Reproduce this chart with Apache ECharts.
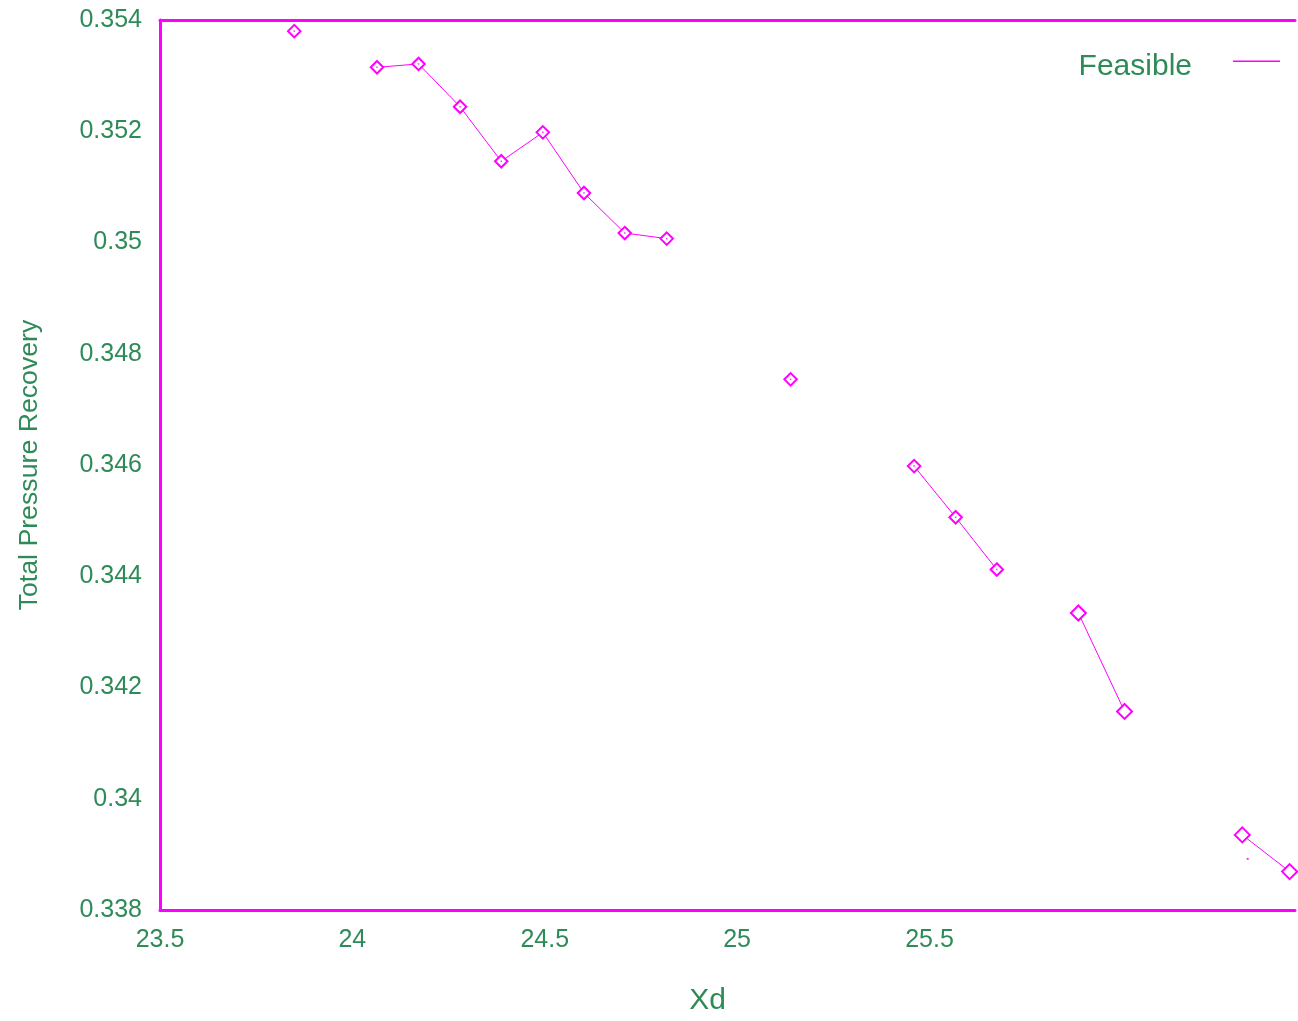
<!DOCTYPE html>
<html>
<head>
<meta charset="utf-8">
<script src="https://cdn.jsdelivr.net/npm/echarts@6/dist/echarts.min.js"></script>
<style>
html,body{margin:0;padding:0;background:#fff;overflow:hidden;}
#chart{position:absolute;left:0;top:0;width:1298px;height:1021px;}
</style>
</head>
<body>
<div id="chart"></div>
<script>
// ---- data ----
const xd = [23.849, 24.064, 24.172, 24.280, 24.387, 24.495, 24.602, 24.708, 24.817,
            25.139, 25.460, 25.568, 25.675, 25.887, 26.007, 26.313, 26.436];
const tpr = [0.35380, 0.35315, 0.35321, 0.35244, 0.35146, 0.35198, 0.35089, 0.35017, 0.35007,
             0.34754, 0.34598, 0.34506, 0.34412, 0.34334, 0.34157, 0.33935, 0.33869];
const segment = [0, 1, 1, 1, 1, 1, 1, 1, 1, 2, 3, 3, 3, 4, 4, 5, 5];
const strayDotX = [26.327];
const strayDotY = [0.33892];
const xTickLabels = ['23.5', '24', '24.5', '25', '25.5'];
const yTickLabels = ['0.338', '0.34', '0.342', '0.344', '0.346', '0.348', '0.35', '0.352', '0.354'];
const seriesName = 'Feasible';

// ---- build line data with gaps between segments ----
const lineData = [];
for (let i = 0; i < xd.length; i++) {
  if (i > 0 && segment[i] !== segment[i - 1]) lineData.push([xd[i], '-']);
  lineData.push([xd[i], tpr[i], segment[i]]);
}
const centerDots = xd.map((x, i) => [x, tpr[i], segment[i]]).filter(d => d[2] < 4);

const GREEN = '#2e8b57';
const MAG = '#ff00ff';
const FONT = '"Liberation Sans", Arial, sans-serif';
const frameLine = {show: true, lineStyle: {color: MAG, width: 3}};

const chart = echarts.init(document.getElementById('chart'), null, {renderer: 'canvas', width: 1298, height: 1021});
chart.setOption({
  animation: false,
  backgroundColor: '#ffffff',
  grid: {left: 160, top: 20, right: 1, bottom: 107, show: false},
  legend: {
    data: [{name: seriesName, icon: 'path://M0,0L47,0L47,1.4L0,1.4Z M0,12.99L0.01,12.99L0.01,13L0,13Z'}],
    right: 13, top: 47,
    align: 'right',
    itemWidth: 47, itemHeight: 13,
    itemStyle: {color: MAG, borderWidth: 0},
    textStyle: {color: GREEN, fontSize: 30, fontFamily: FONT, padding: [0, 36, 0, 0]}
  },
  xAxis: [{
    type: 'value', position: 'bottom',
    min: 23.5, max: 26.45, interval: 0.5,
    name: 'Xd', nameLocation: 'middle', nameGap: 76,
    nameTextStyle: {color: GREEN, fontSize: 30, fontFamily: FONT, padding: [0, 40, 0, 0]},
    axisLine: frameLine, axisTick: {show: false}, splitLine: {show: false},
    axisLabel: {
      color: GREEN, fontSize: 25, fontFamily: FONT, margin: 18,
      formatter: v => {
        const s = String(Math.round(v * 10) / 10);
        return xTickLabels.includes(s) ? s : '';
      }
    }
  }, {
    type: 'value', position: 'top',
    min: 23.5, max: 26.45,
    axisLine: frameLine, axisTick: {show: false}, splitLine: {show: false},
    axisLabel: {show: false}
  }],
  yAxis: {
    type: 'value',
    min: 0.338, max: 0.354, interval: 0.002,
    name: 'Total Pressure Recovery', nameLocation: 'middle', nameGap: 117,
    nameTextStyle: {color: GREEN, fontSize: 26.7, fontFamily: FONT},
    axisLine: frameLine, axisTick: {show: false}, splitLine: {show: false},
    axisLabel: {
      color: GREEN, fontSize: 25, fontFamily: FONT, margin: 18,
      formatter: v => {
        const s = String(Math.round(v * 1000) / 1000);
        return yTickLabels.includes(s) ? s : '';
      }
    }
  },
  series: [
    {
      name: seriesName,
      type: 'line',
      data: lineData,
      connectNulls: false,
      symbol: 'emptyDiamond',
      symbolSize: (v) => (v[2] >= 4 ? 15 : 12.5),
      showAllSymbol: true,
      lineStyle: {color: MAG, width: 1},
      itemStyle: {color: MAG, borderColor: MAG, borderWidth: 1},
      emphasis: {disabled: true},
      z: 3
    },
    {
      name: 'centers',
      type: 'scatter',
      data: centerDots,
      symbol: 'rect', symbolSize: 1.5,
      itemStyle: {color: MAG},
      silent: true, z: 4
    },
    {
      name: 'stray',
      type: 'scatter',
      data: strayDotX.map((x, i) => [x, strayDotY[i]]),
      symbol: 'rect', symbolSize: 2,
      itemStyle: {color: MAG},
      silent: true, z: 4
    }
  ]
});
</script>
</body>
</html>
